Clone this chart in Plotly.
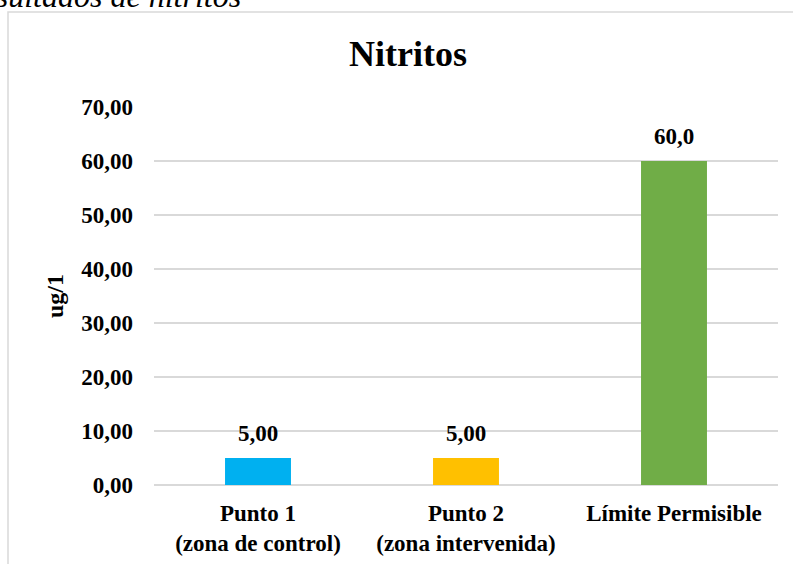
import plotly.graph_objects as go

# Data
categories = ["Punto 1<br>(zona de control)", "Punto 2<br>(zona intervenida)", "Límite Permisible"]
values = [5.0, 5.0, 60.0]
label_decimals = [2, 2, 1]
bar_colors = ["#00B0F0", "#FFC000", "#70AD47"]
y_ticks = [0, 10, 20, 30, 40, 50, 60, 70]

W, H = 793, 564
ML, MR, MT, MB = 154, 15, 107, 79
PW, PH = W - ML - MR, H - MT - MB


def px_to_paper_x(px):
    return (px - ML) / PW


def px_to_paper_y(py):
    return (H - MB - py) / PH


def fmt(v, d):
    return f"{v:.{d}f}".replace(".", ",")


FONT = "Liberation Serif, Times New Roman, serif"

fig = go.Figure(
    go.Bar(
        x=categories,
        y=values,
        marker=dict(color=bar_colors, line=dict(width=0)),
        width=0.317,
        hoverinfo="skip",
    )
)

# value labels above each bar
for c, v, d in zip(categories, values, label_decimals):
    fig.add_annotation(
        x=c, y=v, text=f"<b>{fmt(v, d)}</b>", showarrow=False,
        yanchor="middle", yshift=25,
        font=dict(family=FONT, size=23, color="#000000"),
    )

# caption line partly cut off at the top of the page
fig.add_annotation(
    xref="paper", yref="paper",
    x=px_to_paper_x(243), y=px_to_paper_y(6),
    xanchor="right", yanchor="middle", yshift=10,
    text="<i>Resultados de nitritos</i>", showarrow=False,
    font=dict(family=FONT, size=32, color="#000000"),
)

# chart-area border
fig.add_shape(
    type="rect", xref="paper", yref="paper",
    x0=px_to_paper_x(8), x1=px_to_paper_x(810),
    y0=px_to_paper_y(580), y1=px_to_paper_y(12),
    line=dict(color="#D9D9D9", width=1.5), fillcolor="rgba(0,0,0,0)",
    layer="below",
)

fig.update_layout(
    width=W, height=H,
    margin=dict(l=ML, r=MR, t=MT, b=MB, pad=0, autoexpand=False),
    paper_bgcolor="#FFFFFF", plot_bgcolor="#FFFFFF",
    showlegend=False,
    title=dict(
        text="<b>Nitritos</b>", x=(408) / W, xanchor="center",
        y=1 - 53 / H, yanchor="middle", yref="container",
        font=dict(family=FONT, size=36, color="#000000"),
    ),
    font=dict(family=FONT, color="#000000"),
    xaxis=dict(
        showgrid=False, showline=False, zeroline=False, ticks="",
        tickfont=dict(family=FONT, size=23, color="#000000"),
        ticklabelstandoff=12, automargin=False,
        tickprefix="<b>", ticksuffix="</b>",
    ),
    yaxis=dict(
        range=[0, 70], tickvals=y_ticks,
        ticktext=[f"<b>{fmt(t, 2)}</b>" for t in y_ticks],
        showgrid=True, gridcolor="#D9D9D9", gridwidth=1.5,
        zeroline=True, zerolinecolor="#D9D9D9", zerolinewidth=1.5,
        showline=False, ticks="", automargin=False,
        tickfont=dict(family=FONT, size=23, color="#000000"),
        ticklabelstandoff=20,
        title=dict(text="<b>ug/1</b>", standoff=10,
                   font=dict(family=FONT, size=24, color="#000000")),
    ),
)

fig.write_html("out.html")
